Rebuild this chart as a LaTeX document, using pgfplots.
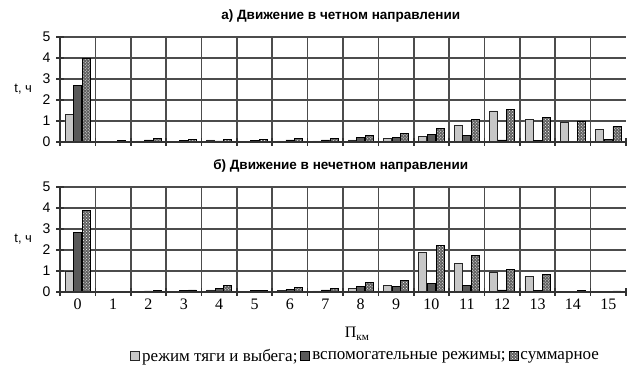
\documentclass[border=0pt]{standalone}
\usepackage{fontspec}
\setmainfont{Liberation Serif}
\setsansfont{Liberation Sans}
\usepackage{pgfplots}
\pgfplotsset{compat=1.18}
\usepackage{pgfplotstable}
\usetikzlibrary{patterns}

\pgfplotstableread{
x a b c
0 1.30 2.70 4.00
1 0.02 0.04 0.06
2 0.05 0.10 0.15
3 0.04 0.08 0.12
4 0.10 0.05 0.12
5 0.03 0.08 0.11
6 0.05 0.10 0.16
7 0.05 0.10 0.15
8 0.10 0.20 0.30
9 0.15 0.23 0.40
10 0.27 0.38 0.65
11 0.78 0.30 1.06
12 1.48 0.10 1.56
13 1.06 0.08 1.15
14 0.93 0.03 0.97
15 0.60 0.12 0.73
}\dataA

\pgfplotstableread{
x a b c
0 1.00 2.85 3.90
1 0.02 0.03 0.04
2 0.03 0.05 0.07
3 0.04 0.07 0.10
4 0.10 0.15 0.30
5 0.04 0.06 0.09
6 0.08 0.12 0.22
7 0.05 0.10 0.15
8 0.15 0.25 0.45
9 0.30 0.25 0.56
10 1.88 0.40 2.20
11 1.38 0.30 1.73
12 0.95 0.10 1.06
13 0.74 0.06 0.85
14 0.03 0.02 0.06
15 0.03 0.02 0.05
}\dataB

\pgfplotsset{
  barA/.style={fill=black!22, draw=black!85, line width=0.8bp},
  barB/.style={fill=black!65, draw=black, line width=0.8bp},
  barC/.style={fill=black!62, draw=black, line width=0.8bp,
    postaction={pattern=crosshatch dots, pattern color=white}},
  panel/.style={
    scale only axis,
    clip=false,
    x=35.375bp, y=21bp,
    xmin=-0.5, xmax=15.5, ymin=0, ymax=5,
    ybar=0.6bp, bar width=8bp,
    axis line style={draw=none},
    xtick={0,...,15},
    ytick={0,...,5},
    major tick length=0pt,
    /pgf/number format/assume math mode=true,
    yticklabel style={font=\sffamily\fontsize{14bp}{16bp}\selectfont, xshift=-6bp},
    xticklabel style={font=\fontsize{16bp}{18bp}\selectfont, yshift=-3bp},
    ylabel={t, ч},
    ylabel style={rotate=-90, at={(axis description cs:-0.065,0.5)}, anchor=center,
      font=\sffamily\fontsize{13bp}{15bp}\selectfont},
    title style={font=\sffamily\bfseries\fontsize{13.5bp}{15bp}\selectfont,
      at={(axis description cs:0.496,1)}, anchor=center, yshift=15bp},
    area legend,
    legend image code/.code={\draw[#1,bar shift=0pt] (0bp,-4.5bp) rectangle (9bp,4.5bp);},
  }
}

% grid lines and ticks as thin filled strips
\newcommand{\panelgrid}{%
  \pgfplotsinvokeforeach{1,...,5}{\fill[black!70] (axis cs:-0.5,##1) ++(0bp,-0.8bp) rectangle ++(566bp,1.6bp);}%
  \pgfplotsinvokeforeach{0.5,1.5,...,14.5}{\fill[black!70] (axis cs:##1,0) ++(-0.8bp,0bp) rectangle ++(1.6bp,105bp);}%
  \pgfplotsinvokeforeach{0,...,5}{\fill[black!80] (axis cs:-0.5,##1) ++(-4bp,-0.8bp) rectangle ++(8bp,1.6bp);}%
  \pgfplotsinvokeforeach{-0.5,0.5,...,15.5}{\fill[black!80] (axis cs:##1,0) ++(-0.8bp,-4bp) rectangle ++(1.6bp,8bp);}%
  \fill[black!80] (axis cs:-0.5,0) ++(-0.9bp,0bp) rectangle ++(1.8bp,105bp);%
}
\newcommand{\panelbase}{%
  \fill[black!80] (axis cs:-0.5,0) ++(0bp,-0.9bp) rectangle ++(566bp,1.8bp);%
}

\begin{document}
\begin{tikzpicture}
\path (0,0) rectangle (627bp,-369bp);
\begin{axis}[panel, at={(60bp,-142bp)}, anchor=south west,
  title={а) Движение в четном направлении},
  xticklabels={}]
\panelgrid
\addplot[barA] table[x=x, y=a] {\dataA};
\addplot[barB] table[x=x, y=b] {\dataA};
\addplot[barC] table[x=x, y=c] {\dataA};
\panelbase
\end{axis}
\begin{axis}[panel, at={(60bp,-292bp)}, anchor=south west,
  title={б) Движение в нечетном направлении},
  xticklabels={0,...,15},
  xlabel={П\textsubscript{км}},
  xlabel style={font=\fontsize{16bp}{18bp}\selectfont, at={(axis description cs:0.525,0)}, anchor=center, yshift=-42bp},
  legend style={draw=none, fill=none, legend columns=3,
    at={(axis description cs:0.54,0)}, anchor=center, yshift=-64bp,
    font=\fontsize{17bp}{18bp}\selectfont,
    /tikz/every even column/.append style={column sep=1bp},
    inner sep=0pt},
  legend cell align=left]
\panelgrid
\addplot[barA] table[x=x, y=a] {\dataB};
\addplot[barB] table[x=x, y=b] {\dataB};
\addplot[barC] table[x=x, y=c] {\dataB};
\panelbase
\legend{режим тяги и выбега;, вспомогательные режимы;, суммарное}
\end{axis}
\end{tikzpicture}
\end{document}
